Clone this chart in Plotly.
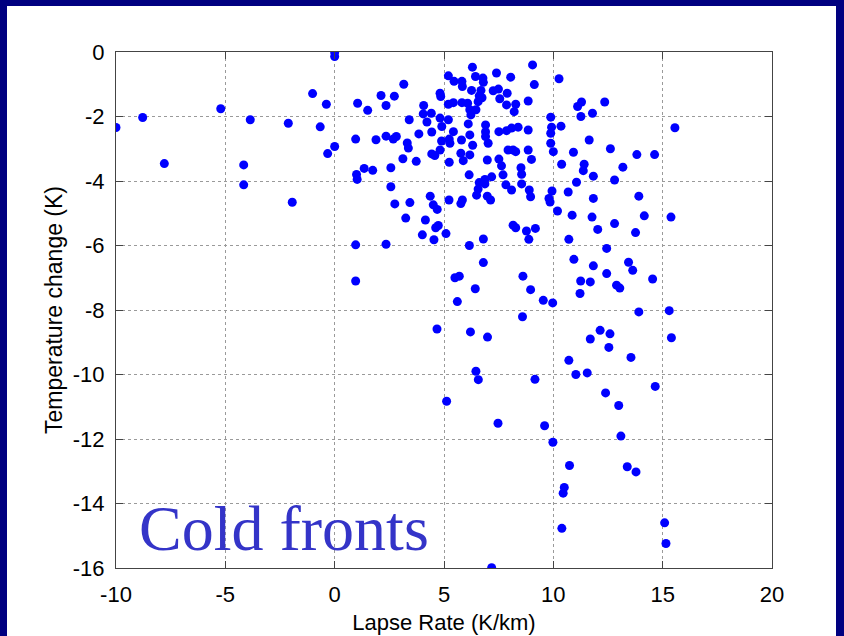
import plotly.graph_objects as go

# Lapse rate (K/km) and temperature change (K) for each cold-front case
lapse_rate = [
    -10.00, -8.78, -7.79, -5.21, -3.86, -4.16, -4.16, -2.12, -1.94, -1.01, -0.66, -0.38, -0.32,
    0.00, 0.00, 0.00, 1.05, 0.96, 1.51, 2.12, 2.35, 2.73, 3.16, 3.41, 1.89, 2.35, 2.68, 2.82,
    3.32, 3.37, 3.85, 3.12, 3.73, 1.00, 1.03, 1.35, 1.74, 2.57, 2.57, 2.75, 3.44, 3.25, 4.15,
    4.01, 0.96, 2.35, 0.96, 4.07, 4.05, 4.22, 4.42, 4.37,
    4.82, 4.85, 5.20, 5.46, 5.82, 5.84, 6.30, 6.44, 6.78, 6.80, 6.26, 6.69, 6.61, 6.74, 7.40,
    7.25, 7.49, 7.55, 7.89, 7.86, 8.05, 8.28, 8.21, 9.05, 9.13, 8.85,
    5.20, 5.43, 5.82, 6.08, 6.18, 6.46, 6.23, 6.56,
    4.44, 4.82, 4.90, 5.20, 5.43, 6.11, 6.18, 5.80, 5.24, 5.27, 4.89, 4.82, 4.44, 4.58, 5.24,
    5.77, 5.88, 6.18, 6.31, 6.15,
    6.90, 6.90, 6.90, 7.02, 7.51, 7.86, 8.09, 8.39, 8.85,
    6.98, 7.51, 7.63, 7.70, 7.93, 8.16, 8.28, 8.85, 9.00, 8.52, 8.55, 8.55,
    7.18, 6.87, 6.87, 6.61, 6.56, 6.49, 6.98, 7.13, 7.83, 8.09, 8.90, 8.96,
    5.23, 5.77, 5.84, 4.51, 4.69, 4.62, 4.74, 4.54, 5.09,
    8.16, 8.28, 8.77, 9.18, 8.88, 6.80, 6.16, 6.80, 5.50, 5.70, 6.43, 8.61, 8.96,
    10.26, 9.88, 9.92, 9.88, 9.88, 10.00, 10.35, 10.38, 9.94, 9.80, 9.85, 10.19, 10.68, 10.86,
    10.71, 11.06, 10.92, 11.41, 11.37, 11.83, 11.64, 11.29, 11.11, 11.26, 11.79, 12.35, 12.61,
    13.18, 13.82, 14.63, 15.56, 12.80, 11.83, 11.77, 12.03, 12.80, 13.91, 14.16, 13.76, 15.38,
    12.44, 10.94, 11.83, 13.44, 13.63, 12.44, 11.25, 11.69, 12.89, 13.04, 14.54,
    9.54, 9.97, 11.22, 13.91, 15.30, 15.40, 12.14, 12.59, 11.69, 12.54, 13.55, 10.71, 9.16,
    11.03, 11.55, 14.66, 12.39, 12.99, 9.60, 9.98, 13.09, 10.74, 13.38, 13.78, 10.50, 10.45,
    15.09, 10.39, 15.15,
    5.61, 8.59, 4.68, 6.21, 6.99, 6.46, 6.57, 5.12, 7.47, 7.18,
]
temp_change = [
    -2.34, -2.03, -3.46, -1.76, -2.10, -3.50, -4.12, -2.21, -4.66, -1.29, -2.32, -1.62, -3.15,
    -0.01, -0.14, -2.93, -1.59, -2.70, -1.81, -1.35, -1.66, -1.37, -1.00, -2.10, -2.72, -2.61, -2.70, -2.62,
    -2.82, -2.98, -2.54, -3.31, -3.39, -3.80, -3.95, -3.61, -3.67, -3.59, -4.18, -4.71, -4.67, -5.15, -5.21,
    -5.67, -5.98, -5.96, -7.10, -1.66, -1.92, -2.17, -1.90, -4.47,
    -1.28, -1.38, -0.74, -0.91, -0.91, -1.07, -0.47, -0.76, -0.81, -0.94, -1.19, -1.19, -1.36, -1.42, -0.65,
    -1.20, -1.15, -1.45, -1.28, -1.64, -0.78, -1.62, -1.85, -0.40, -1.01, -1.52,
    -1.62, -1.57, -1.57, -1.59, -1.79, -1.79, -1.95, -1.54,
    -2.48, -2.05, -2.31, -2.10, -2.47, -2.23, -2.57, -2.73, -2.70, -2.83, -2.76, -3.04, -3.16, -3.21, -3.42,
    -3.14, -3.37, -3.19, -2.89, -3.81,
    -2.26, -2.47, -2.62, -2.83, -2.47, -2.44, -2.36, -2.33, -2.42,
    -3.35, -3.32, -3.53, -3.81, -3.04, -3.04, -3.09, -3.04, -3.33, -3.59, -3.79, -4.09,
    -3.87, -3.95, -4.09, -4.05, -4.25, -4.44, -4.47, -4.59, -4.12, -4.28, -4.28, -4.49,
    -4.59, -4.70, -4.59, -4.74, -4.88, -5.45, -5.38, -5.82, -5.63,
    -5.37, -5.45, -5.55, -5.47, -5.81, -5.80, -6.00, -6.53, -7.00, -6.95, -7.34, -6.95, -7.37,
    -0.83, -2.02, -2.33, -2.52, -2.83, -3.09, -2.30, -3.48, -4.31, -4.54, -4.65, -4.93, -4.34, -5.06,
    -5.81, -4.04, -3.11, -3.48, -3.68, -3.85, -2.73, -1.55, -1.69, -2.00, -1.90, -1.55, -3.00,
    -3.57, -3.18, -3.18, -2.35, -3.97, -4.54, -5.12, -5.50, -5.32, -4.47, -5.08, -5.60, -5.12,
    -6.09, -6.43, -6.63, -6.52, -6.77, -6.87, -7.10, -7.13, -7.23, -7.32, -7.04,
    -7.70, -7.78, -7.49, -8.06, -8.02, -8.86, -8.63, -8.74, -8.90, -9.16, -9.47, -9.56, -10.15,
    -10.00, -9.95, -10.37, -10.57, -10.96, -11.59, -12.10, -11.91, -12.82, -12.86, -13.02, -13.50, -13.68,
    -14.60, -14.77, -15.24,
    -7.74, -8.21, -8.59, -8.68, -8.84, -9.90, -10.16, -10.83, -11.51, -15.99,
]

x_ticks = [-10, -5, 0, 5, 10, 15, 20]
x_tick_labels = ["-10", "-5", "0", "5", "10", "15", "20"]
y_ticks = [0, -2, -4, -6, -8, -10, -12, -14, -16]
y_tick_labels = ["0", "-2", "-4", "-6", "-8", "-10", "-12", "-14", "-16"]

SANS = "Liberation Sans, Arial, Helvetica, sans-serif"
SERIF = "Liberation Serif, Times New Roman, serif"
NAVY = "#000080"

fig = go.Figure(
    go.Scatter(
        x=lapse_rate,
        y=temp_change,
        mode="markers",
        marker=dict(color="#0000FF", size=9, line=dict(width=0)),
        showlegend=False,
    )
)

axis_common = dict(
    automargin=False,
    ticks="inside",
    ticklen=7,
    tickwidth=1,
    tickcolor="#444444",
    showline=True,
    linecolor="#444444",
    linewidth=1,
    mirror="allticks",
    showgrid=True,
    gridcolor="#9a9a9a",
    griddash="dot",
    gridwidth=1,
    zeroline=False,
    tickfont=dict(family=SANS, size=22, color="black"),
)

fig.update_layout(
    width=844,
    height=636,
    margin=dict(l=116, r=72, t=52, b=68, pad=0),
    paper_bgcolor=NAVY,
    plot_bgcolor="white",
    xaxis=dict(
        range=[-10, 20],
        tickmode="array",
        tickvals=x_ticks,
        ticktext=x_tick_labels,
        ticklabelstandoff=7,
        title=dict(text="Lapse Rate (K/km)", font=dict(family=SANS, size=22, color="black"), standoff=8),
        **axis_common,
    ),
    yaxis=dict(
        range=[-16, 0],
        tickmode="array",
        tickvals=y_ticks,
        ticktext=y_tick_labels,
        ticklabelstandoff=6,
        title=dict(text="Temperature change (K)", font=dict(family=SANS, size=23, color="black"), standoff=3),
        **axis_common,
    ),
    shapes=[
        # white slide area inside the navy frame
        dict(
            type="rect",
            xref="paper", yref="paper",
            xsizemode="pixel", ysizemode="pixel",
            xanchor=0, yanchor=1,
            x0=-109, x1=720, y0=46, y1=-600,
            fillcolor="white", line=dict(width=0),
            layer="below",
        )
    ],
    annotations=[
        dict(
            text="Cold fronts",
            x=-2.30, y=-14.78,
            xref="x", yref="y",
            xanchor="center", yanchor="middle",
            showarrow=False,
            font=dict(family=SERIF, size=64, color="#3434C8"),
        )
    ],
)

fig.write_html("out.html")
